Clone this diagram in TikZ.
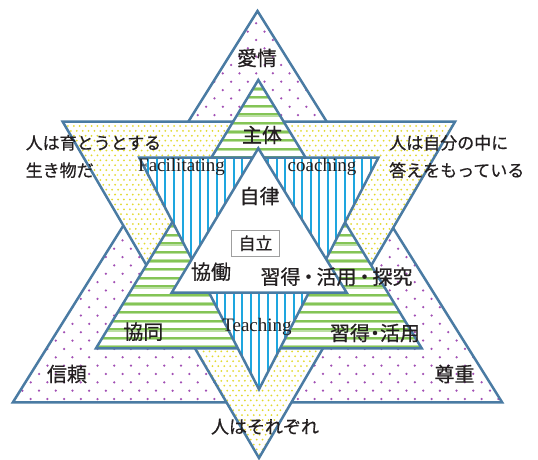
\documentclass[tikz,border=0pt]{standalone}
\usepackage{fontspec}
\setmainfont{Liberation Serif}
\newfontfamily\jp[FakeBold=0.6]{Noto Sans CJK JP}
\definecolor{edge}{HTML}{4A7BA3}
\definecolor{pdot}{HTML}{A24FB5}
\definecolor{ydot}{HTML}{E3DA30}
\definecolor{gstripe}{HTML}{84C456}
\definecolor{bstripe}{HTML}{1EA6DF}
\definecolor{ink}{HTML}{231F20}
\tikzset{
  tri/.style={draw=edge, line width=2.5pt, line join=miter},
  lbl/.style={font=\jp\fontsize{20}{24}\selectfont, text=ink, inner sep=0pt},
  sent/.style={font=\jp\fontsize{17}{27.5}\selectfont, text=ink, inner sep=0pt, anchor=west, align=left},
  eng/.style={font=\fontsize{19}{21}\selectfont, text=ink, inner sep=0pt, anchor=base},
}
\begin{document}
\begin{tikzpicture}[x=1pt,y=-1pt]
\useasboundingbox (0,0) rectangle (538,460);
% triangle corners
\coordinate (PA) at (257.5,11);   \coordinate (PL) at (12.9,402.3); \coordinate (PR) at (502.1,402.3);
\coordinate (YL) at (62.7,121.7); \coordinate (YR) at (455,121.7);  \coordinate (YA) at (259,458);
\coordinate (GA) at (258.3,80);   \coordinate (GL) at (96,348.3);   \coordinate (GR) at (421.7,348.3);
\coordinate (BL) at (139.3,157.7);\coordinate (BR) at (378.3,157.7);\coordinate (BA) at (259,389.3);
\coordinate (WA) at (258.3,148.3);\coordinate (WL) at (171.7,292.7);\coordinate (WR) at (346.7,292.7);

% purple dotted upward triangle
\fill[white] (PA)--(PL)--(PR)--cycle;
\begin{scope}
\clip (PA)--(PL)--(PR)--cycle;
\foreach \j in {0,...,47} {
  \foreach \i in {0,...,30} {
    \fill[pdot] ({14+\i*16.7+mod(\j,2)*8.35},{399-\j*8.35}) circle (1.25pt);
  }
}
\end{scope}
\draw[tri] (PA)--(PL)--(PR)--cycle;

% yellow dotted downward triangle
\fill[white] (YL)--(YR)--(YA)--cycle;
\begin{scope}
\clip (YL)--(YR)--(YA)--cycle;
\foreach \j in {0,...,68} {
  \foreach \i in {0,...,67} {
    \fill[ydot] ({62+\i*5.9+mod(\j,2)*2.95},{126+\j*4.9}) circle (1pt);
  }
}
\end{scope}
\draw[tri] (YL)--(YR)--(YA)--cycle;

% green striped upward triangle
\fill[white] (GA)--(GL)--(GR)--cycle;
\begin{scope}
\clip (GA)--(GL)--(GR)--cycle;
\foreach \k in {0,...,31} {
  \draw[gstripe!55, line width=3.4pt] (90,{89+\k*8.6}) -- (430,{89+\k*8.6});
  \draw[gstripe, line width=2pt] (90,{88.6+\k*8.6}) -- (430,{88.6+\k*8.6});
}
\end{scope}
\draw[tri] (GA)--(GL)--(GR)--cycle;

% blue striped downward triangle
\fill[white] (BL)--(BR)--(BA)--cycle;
\begin{scope}
\clip (BL)--(BR)--(BA)--cycle;
\foreach \k in {0,...,30} {
  \draw[bstripe, line width=2pt] ({131.2+\k*8.55},150) -- ({131.2+\k*8.55},395);
}
\end{scope}
\draw[tri] (BL)--(BR)--(BA)--cycle;

% white inner triangle
\fill[white] (WA)--(WL)--(WR)--cycle;
\draw[tri] (WA)--(WL)--(WR)--cycle;

% labels
\node[lbl] (aijo) at (257,58) {愛情};
\node[lbl] (shutai) at (262,135) {主体};
\node[sent] (sodatsu) at (25.5,156.5) {人は育とうとする\\生き物だ};
\node[sent] (kotae) at (389,156.5) {人は自分の中に\\答えをもっている};
\node[eng] (facil) at (181.5,171.7) {Facilitating};
\node[eng] (coach) at (322,171.5) {coaching};
\node[lbl] (jiritsu) at (259.5,196) {自律};
\node[draw=gray!75, line width=0.9pt, fill=white, minimum width=47.6pt, minimum height=26.7pt, inner sep=0pt, font=\jp\fontsize{17}{20}\selectfont, text=ink] (jiritsu2) at (255.5,243.3) {自立};
\node[lbl] (kyodo) at (211,271.7) {協働};
\node[lbl] (shutoku3) at (336.5,276.7) {習得\makebox[0.8em]{・}活用\makebox[0.8em]{・}探究};
\node[eng] (teach) at (257,331) {Teaching};
\node[lbl] (kyodo2) at (143.3,331.7) {協同};
\node[lbl] (shutoku2) at (375,333) {習得\makebox[0.5em]{・}活用};
\node[lbl] (shinrai) at (67,374) {信頼};
\node[lbl] (sonchou) at (454.5,374) {尊重};
\node[lbl, font=\jp\fontsize{18}{22}\selectfont] (sorezore) at (265,426.7) {人はそれぞれ};
\end{tikzpicture}
\end{document}
